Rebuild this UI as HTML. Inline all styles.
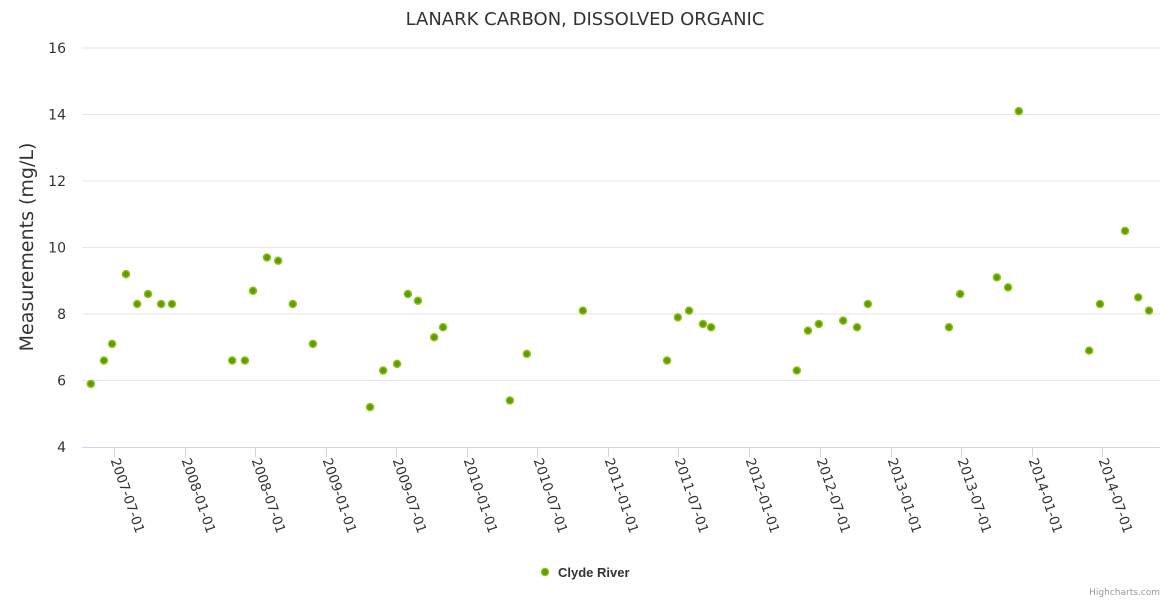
<!DOCTYPE html>
<html><head><meta charset="utf-8"><style>
body{margin:0;background:#fff;}
svg{display:block;font-family:"DejaVu Sans","Liberation Sans",sans-serif;}
</style></head><body>
<svg id="chart" width="1170" height="600">
<text x="585" y="25" text-anchor="middle" font-size="18" fill="#333">LANARK CARBON, DISSOLVED ORGANIC</text>
<text transform="translate(33,247) rotate(-90)" text-anchor="middle" font-size="19" fill="#333">Measurements (mg/L)</text>
<g id="grid"></g><g id="xaxis"></g><g id="pts"></g>
<g>
<circle cx="545" cy="572" r="3.5" fill="#5f9b00" stroke="#8bc21a" stroke-width="1.5"/>
<text x="558" y="577" font-size="12" font-weight="bold" fill="#333" font-family="Liberation Sans, sans-serif" style="font-size:13px">Clyde River</text></g>
<text x="1160" y="595" text-anchor="end" font-size="9" fill="#999">Highcharts.com</text>
</svg>
<script>
const dates=["2007-05-02","2007-06-05","2007-06-26","2007-08-01","2007-08-30","2007-09-27","2007-10-31","2007-11-28","2008-05-02","2008-06-04","2008-06-25","2008-07-31","2008-08-29","2008-10-06","2008-11-27","2009-04-24","2009-05-28","2009-07-03","2009-07-31","2009-08-26","2009-10-07","2009-10-30","2010-04-21","2010-06-04","2010-10-27","2011-06-02","2011-06-30","2011-07-29","2011-09-03","2011-09-24","2012-05-03","2012-06-01","2012-06-29","2012-08-31","2012-10-06","2012-11-03","2013-06-01","2013-06-30","2013-10-03","2013-11-01","2013-11-29","2014-05-30","2014-06-27","2014-08-31","2014-10-04","2014-11-01"];
const values=[5.9,6.6,7.1,9.2,8.3,8.6,8.3,8.3,6.6,6.6,8.7,9.7,9.6,8.3,7.1,5.2,6.3,6.5,8.6,8.4,7.3,7.6,5.4,6.8,8.1,6.6,7.9,8.1,7.7,7.6,6.3,7.5,7.7,7.8,7.6,8.3,7.6,8.6,9.1,8.8,14.1,6.9,8.3,10.5,8.5,8.1];
const yTicks=[4,6,8,10,12,14,16];
const xTicks=["2007-07-01","2008-01-01","2008-07-01","2009-01-01","2009-07-01","2010-01-01","2010-07-01","2011-01-01","2011-07-01","2012-01-01","2012-07-01","2013-01-01","2013-07-01","2014-01-01","2014-07-01"];
const NS="http://www.w3.org/2000/svg";
const t0=Date.parse("2007-07-01");
function X(d){return 114+(Date.parse(d)-t0)/86400000*0.3862;}
function Y(v){return 447-(v-4)*33.25;}
function mk(tag,attrs,parent){const e=document.createElementNS(NS,tag);for(const k in attrs)e.setAttribute(k,attrs[k]);parent.appendChild(e);return e;}
const grid=document.getElementById('grid'),xa=document.getElementById('xaxis'),pts=document.getElementById('pts');
yTicks.forEach(v=>{
 if(v>4){const l=mk('line',{x1:82,x2:1160,y1:Y(v),y2:Y(v),stroke:'#e6e6e6'},grid);
 
 }
 const t=mk('text',{x:66,y:Y(v)+5,'text-anchor':'end','font-size':14,fill:'#333'},grid);
 t.textContent=v;
 
 
});
const ax=mk('line',{x1:82,x2:1160,y1:447.5,y2:447.5,stroke:'#ccd6eb'},xa);


xTicks.forEach(d=>{
 const x=Math.round(X(d))+0.5;
 mk('line',{x1:x,x2:x,y1:447,y2:457,stroke:'#ccd6eb'},xa);
 const t=mk('text',{transform:`translate(${x-4},460) rotate(71)`,'font-size':13.5,fill:'#333'},xa);
 t.textContent=d;
 
 
});
dates.forEach((d,i)=>{
 const c=mk('circle',{cx:X(d),cy:Y(values[i]),r:3.5,fill:'#5f9b00',stroke:'#8bc21a','stroke-width':1.5},pts);
 
 
});
</script>
</body></html>
